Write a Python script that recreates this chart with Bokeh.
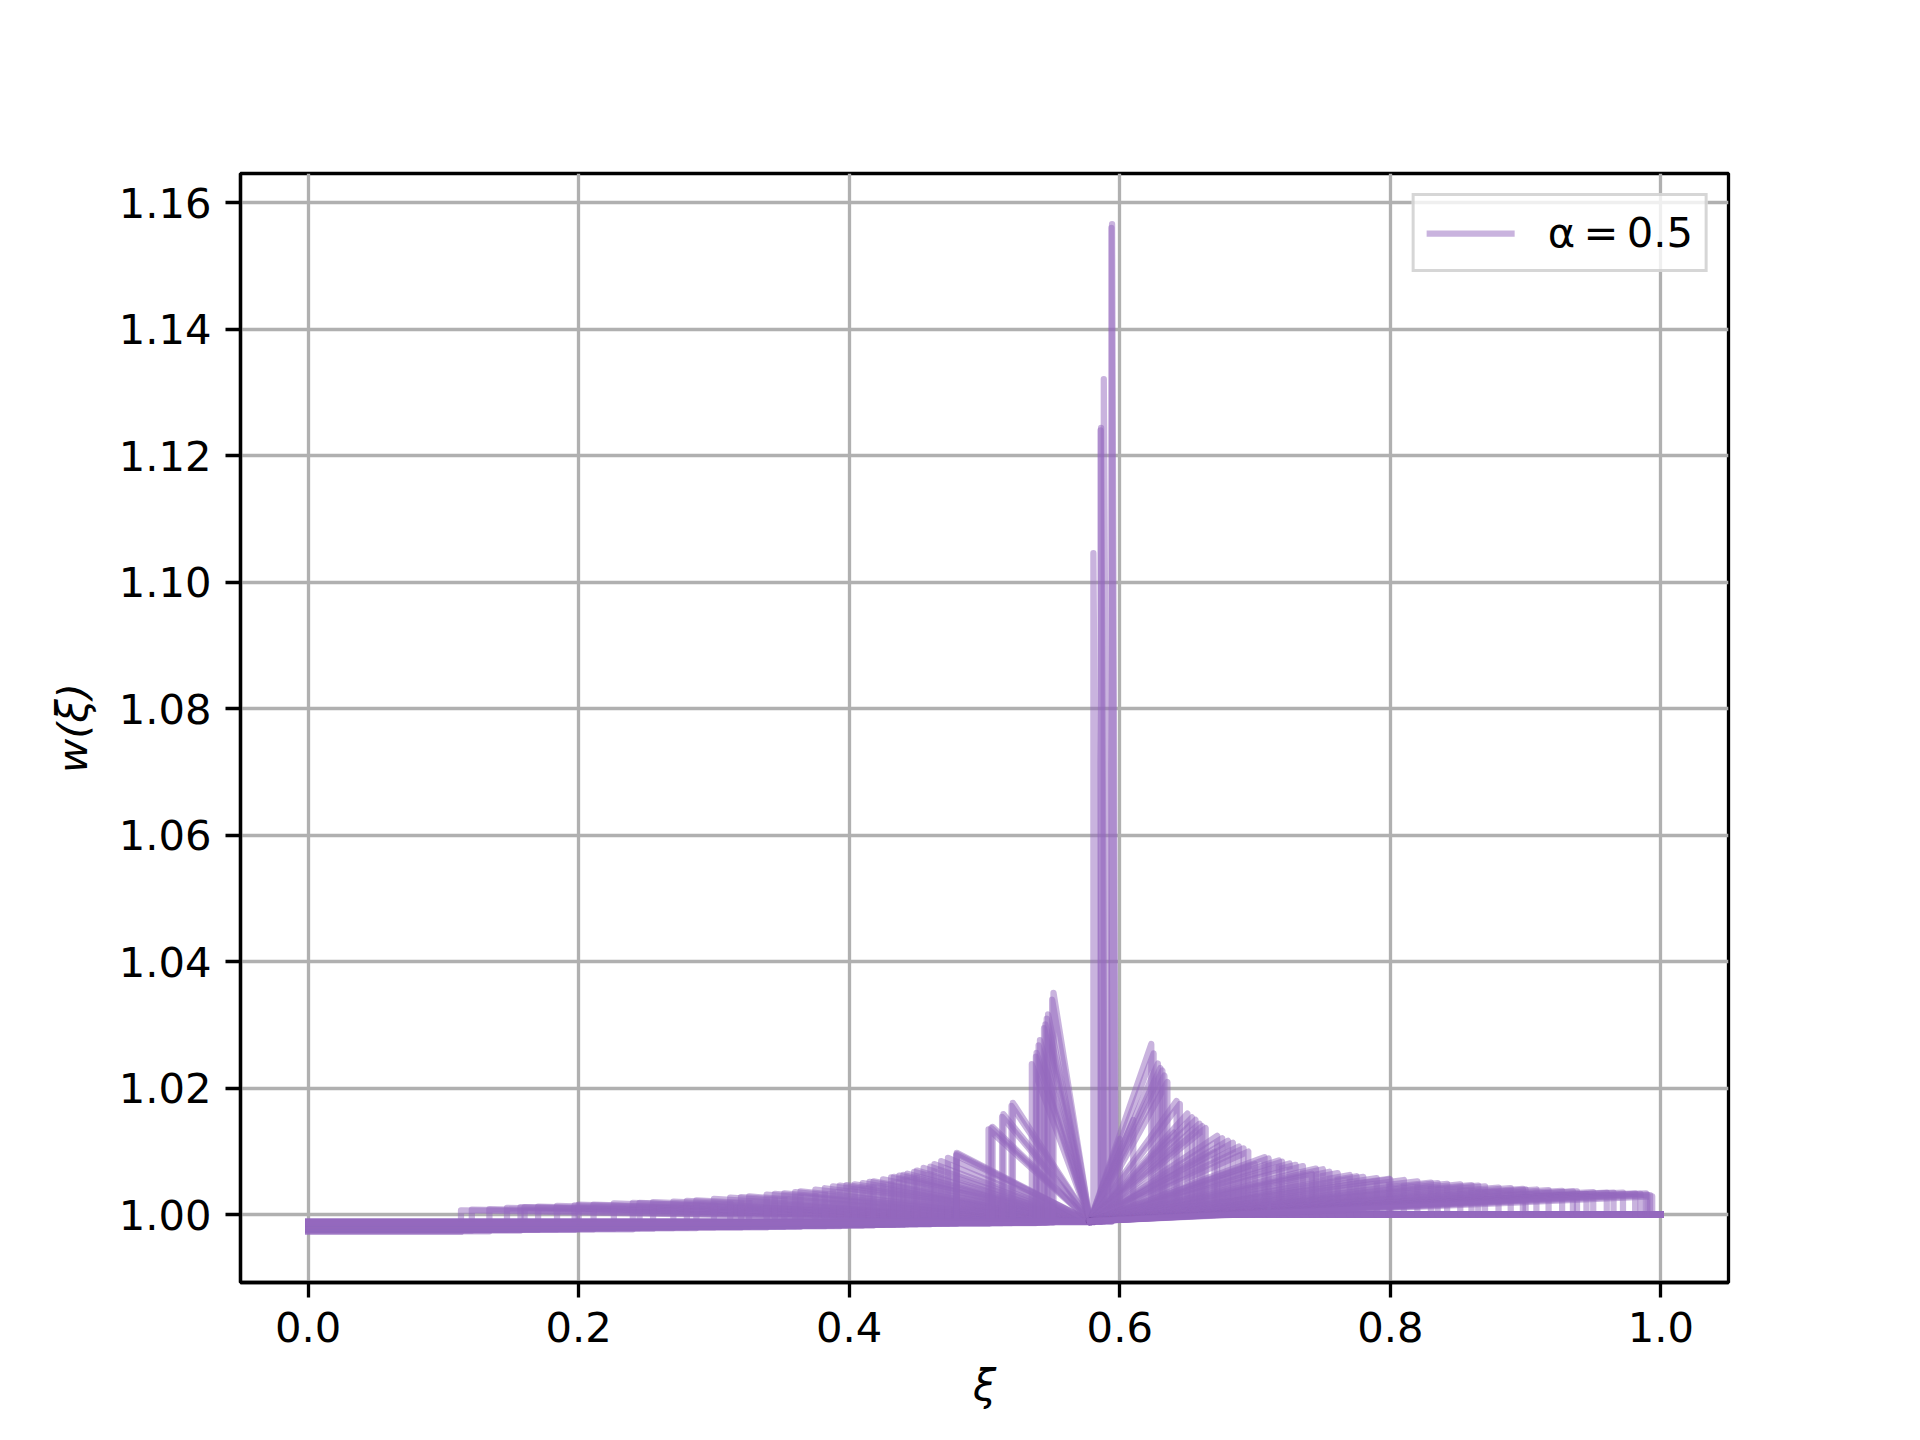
from bokeh.plotting import figure
from bokeh.models import Range1d, FixedTicker, PrintfTickFormatter, Legend, LegendItem
from bokeh.embed import file_html
from bokeh.resources import INLINE

# ---- data ----
xi_start = 0.0
xi_end = 1.0
xi_c = 0.578          # convergence point of all curves
w_c = 0.999
w_right = 1.0

# left-hand peaks: position, peak height, base level
left_x = [0.113, 0.121, 0.134, 0.147, 0.157, 0.160, 0.170, 0.184, 0.197, 0.200,
          0.211, 0.226, 0.240, 0.245, 0.255, 0.270, 0.280, 0.287, 0.300, 0.312,
          0.320, 0.326, 0.339, 0.345, 0.352, 0.360, 0.364, 0.375, 0.382, 0.388,
          0.393, 0.398, 0.404, 0.410, 0.415, 0.418, 0.425, 0.431, 0.433, 0.437,
          0.440, 0.443, 0.448, 0.450, 0.455, 0.460, 0.463, 0.468, 0.473, 0.4790,
          0.4795, 0.4795, 0.503, 0.505, 0.506, 0.513, 0.514, 0.520, 0.521, 0.535,
          0.538, 0.5385, 0.540, 0.541, 0.544, 0.545, 0.546, 0.547, 0.550, 0.551]
left_h = [1.0007, 1.0008, 1.0009, 1.0011, 1.0012, 1.0012, 1.0013, 1.0014, 1.0015, 1.0016,
          1.0016, 1.0018, 1.0019, 1.0019, 1.0020, 1.0021, 1.0022, 1.0023, 1.0025, 1.0027,
          1.0028, 1.0029, 1.0032, 1.0033, 1.0034, 1.0036, 1.0037, 1.0040, 1.0042, 1.0045,
          1.0046, 1.0047, 1.0048, 1.0050, 1.0052, 1.0053, 1.0056, 1.0059, 1.0060, 1.0062,
          1.0063, 1.0065, 1.0068, 1.0070, 1.0074, 1.0076, 1.0080, 1.0085, 1.0090, 1.0094,
          1.0098, 1.0096, 1.0135, 1.0137, 1.0139, 1.0155, 1.0159, 1.0172, 1.0177, 1.0238,
          1.0250, 1.0256, 1.0268, 1.0276, 1.0295, 1.0301, 1.0310, 1.0317, 1.0340, 1.0351]
left_base = [0.9973, 0.9975, 0.9974, 0.9976, 0.9975, 0.9977, 0.9976, 0.9977, 0.9976, 0.9978,
             0.9977, 0.9978, 0.9977, 0.9979, 0.9978, 0.9979, 0.9980, 0.9979, 0.9980, 0.9981,
             0.9980, 0.9981, 0.9980, 0.9982, 0.9981, 0.9982, 0.9981, 0.9983, 0.9982, 0.9983,
             0.9982, 0.9983, 0.9984, 0.9983, 0.9984, 0.9983, 0.9984, 0.9985, 0.9984, 0.9985,
             0.9984, 0.9985, 0.9986, 0.9985, 0.9986, 0.9985, 0.9986, 0.9987, 0.9986, 0.9987,
             0.9986, 0.9987, 0.9986, 0.9987, 0.9988, 0.9987, 0.9988, 0.9987, 0.9988, 0.9988,
             0.9987, 0.9988, 0.9988, 0.9988, 0.9988, 0.9988, 0.9988, 0.9988, 0.9988, 0.9988]

# tall narrow spikes next to the convergence point
spike_up = [0.5805, 0.5858, 0.5862, 0.5882, 0.5938, 0.5943]
spike_h = [1.1046, 1.1240, 1.1244, 1.1321, 1.1560, 1.1566]
spike_down = [0.5840, 0.5880, 0.5890, 0.5915, 0.5965, 0.5970]
spike_base = [0.9988, 0.9989, 0.9989, 0.9989, 0.9989, 0.9990]

# right-hand peaks: position, peak height
right_x = [0.6000, 0.6100, 0.6233, 0.6250, 0.6282, 0.6300, 0.6315, 0.6330, 0.6352, 0.6400,
           0.6420, 0.6444, 0.6500, 0.6534, 0.6560, 0.6590, 0.6610, 0.6635, 0.6700, 0.6720,
           0.6757, 0.6800, 0.6836, 0.6880, 0.6915, 0.6950, 0.7000, 0.7070, 0.7100, 0.7176,
           0.7200, 0.7255, 0.7300, 0.7354, 0.7420, 0.7450, 0.7501, 0.7550, 0.7611, 0.7700,
           0.7750, 0.7800, 0.7900, 0.7990, 0.8000, 0.8100, 0.8200, 0.8300, 0.8350, 0.8420,
           0.8517, 0.8600, 0.8650, 0.8700, 0.8800, 0.8890, 0.8980, 0.9000, 0.9080, 0.9170,
           0.9270, 0.9350, 0.9380, 0.9450, 0.9500, 0.9600, 0.9650, 0.9720, 0.9810, 0.9850,
           0.9890, 0.9900, 0.9920, 0.9936]
right_h = [1.0120, 1.0150, 1.0270, 1.0255, 1.0239, 1.0232, 1.0228, 1.0220, 1.0210, 1.0130,
           1.0180, 1.0175, 1.0160, 1.0154, 1.0150, 1.0144, 1.0140, 1.0137, 1.0100, 1.0125,
           1.0121, 1.0117, 1.0114, 1.0108, 1.0105, 1.0100, 1.0080, 1.0091, 1.0089, 1.0086,
           1.0084, 1.0081, 1.0079, 1.0077, 1.0065, 1.0073, 1.0072, 1.0068, 1.0066, 1.0063,
           1.0061, 1.0060, 1.0058, 1.0057, 1.0056, 1.0055, 1.0053, 1.0051, 1.0050, 1.0049,
           1.0048, 1.0047, 1.0046, 1.0045, 1.0043, 1.0042, 1.0041, 1.0040, 1.0040, 1.0039,
           1.0038, 1.0037, 1.0037, 1.0033, 1.0036, 1.0035, 1.0035, 1.0035, 1.0034, 1.0033,
           1.0034, 1.0032, 1.0031, 1.0029]

x_ticks = [0.0, 0.2, 0.4, 0.6, 0.8, 1.0]
y_ticks = [1.00, 1.02, 1.04, 1.06, 1.08, 1.10, 1.12, 1.14, 1.16]
legend_label = "α\u2009=\u20090.5"

# ---- build curves ----
xs = []
ys = []
for x, h, a in zip(left_x, left_h, left_base):
    xs.append([xi_start, x, x, xi_c])
    ys.append([a, a, h, w_c])
for xu, h, xd, a in zip(spike_up, spike_h, spike_down, spike_base):
    xs.append([xi_start, xu, xu, xd, xi_c])
    ys.append([a, a, h, w_right, w_c])
for x, h in zip(right_x, right_h):
    xs.append([xi_c, x, x, xi_end])
    ys.append([w_c, h, w_right, w_right])

FONT = "DejaVu Sans"
FS = "41.7px"
LW = 3.3

p = figure(frame_width=1488, frame_height=1109,
           min_border_left=240, min_border_right=176,
           min_border_top=173, min_border_bottom=142,
           x_range=Range1d(-0.05, 1.05), y_range=Range1d(0.9893, 1.1646),
           output_backend="svg", toolbar_location=None,
           background_fill_color="white", border_fill_color="white")

p.outline_line_color = "black"
p.outline_line_width = LW
p.outline_line_alpha = 1.0

r = p.multi_line(xs, ys, line_color="#9467bd", line_alpha=0.5, line_width=6.25,
                 line_join="round", line_cap="square")

for ax, ticks, fmt in ((p.xaxis[0], x_ticks, "%.1f"), (p.yaxis[0], y_ticks, "%.2f")):
    ax.ticker = FixedTicker(ticks=ticks)
    ax.formatter = PrintfTickFormatter(format=fmt)
    ax.major_label_text_font = FONT
    ax.major_label_text_font_size = FS
    ax.major_label_text_color = "black"
    ax.major_tick_out = 15
    ax.major_tick_in = 0
    ax.major_tick_line_width = LW
    ax.major_tick_line_color = "black"
    ax.minor_tick_line_color = None
    ax.axis_line_width = LW
    ax.axis_line_color = "black"
    ax.axis_label_text_font = FONT
    ax.axis_label_text_font_size = FS
    ax.axis_label_text_font_style = "italic"
    ax.axis_label_text_color = "black"
    ax.major_label_standoff = 14

p.xaxis[0].axis_label = "ξ"
p.yaxis[0].axis_label = "w(ξ)"
p.xaxis[0].axis_label_standoff = 16
p.yaxis[0].axis_label_standoff = 19

p.xgrid.ticker = FixedTicker(ticks=x_ticks)
p.ygrid.ticker = FixedTicker(ticks=y_ticks)
for g in (p.xgrid[0], p.ygrid[0]):
    g.grid_line_color = "#b0b0b0"
    g.grid_line_width = LW

legend = Legend(items=[LegendItem(label=legend_label, renderers=[r])],
                location="top_right",
                label_text_font=FONT, label_text_font_size=FS,
                label_text_color="black",
                border_line_color="#cccccc", border_line_width=LW, border_line_alpha=0.8,
                background_fill_color="white", background_fill_alpha=0.8,
                padding=12, margin=20, spacing=0,
                glyph_width=88, glyph_height=42, label_standoff=33,
                label_height=48)
p.add_layout(legend, "center")

open("out.html", "w").write(file_html(p, INLINE))
